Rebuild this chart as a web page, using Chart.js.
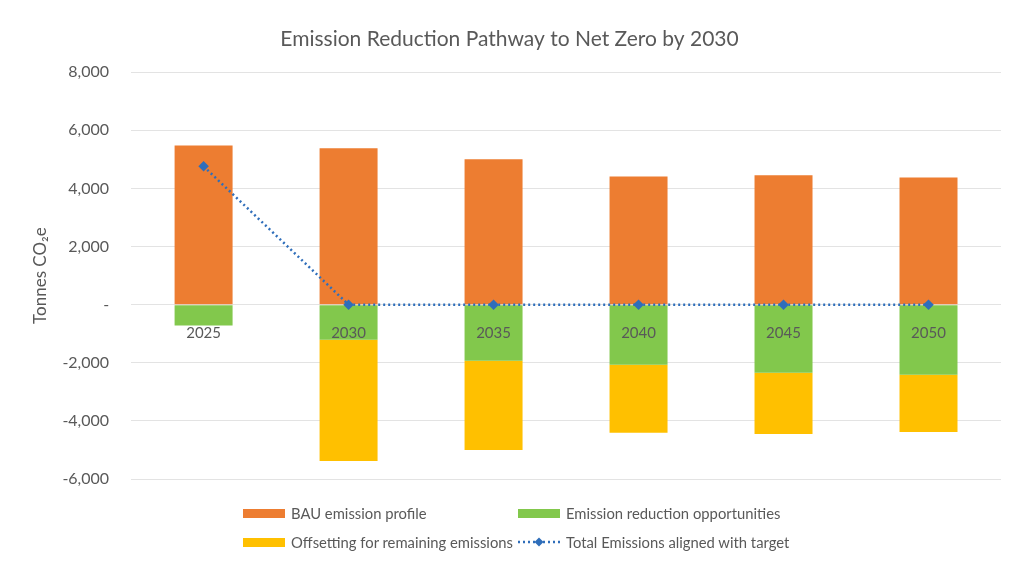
<!DOCTYPE html>
<html>
<head>
<meta charset="utf-8">
<script src="https://cdn.jsdelivr.net/npm/chart.js@4"></script>
<style>
  body { margin: 0; background: #fff; }
  .wrap { position: relative; width: 1011px; height: 566px; }
  .legend {
    position: absolute; left: 243px; top: 503px;
    display: grid; grid-template-columns: 275px 300px; row-gap: 9px;
    font-family: Lato, "Open Sans", sans-serif; font-size: 14.8px; color: #595959;
  }
  .legend .item { display: flex; align-items: center; height: 20px; white-space: nowrap; }
  .legend .swatch { width: 42px; height: 9px; margin-right: 6px; }
  .legend canvas { margin-right: 6px; }
</style>
</head>
<body>
<div class="wrap">
  <canvas id="chart"></canvas>
  <div class="legend" id="legend"></div>
</div>
<script>
const years = ["2025", "2030", "2035", "2040", "2045", "2050"];
const bauEmissions = [5480, 5380, 5000, 4410, 4450, 4380];
const reductions = [-720, -1210, -1930, -2070, -2340, -2410];
const offsets = [0, -4170, -3070, -2340, -2110, -1970];
const totalEmissions = [4760, 0, 0, 0, 0, 0];

const orange = "#ED7D31";
const green = "#82C84C";
const yellow = "#FFC000";
const blue = "#2F6EBA";

const chart = new Chart(document.getElementById("chart"), {
  data: {
    labels: years,
    datasets: [
      {
        type: "line",
        label: "Total Emissions aligned with target",
        data: totalEmissions,
        stack: "total",
        order: 0,
        borderColor: blue,
        backgroundColor: blue,
        borderWidth: 2.5,
        borderDash: [2, 3],
        pointStyle: "rectRot",
        pointRadius: 3.5,
        tension: 0
      },
      { type: "bar", label: "BAU emission profile", data: bauEmissions, backgroundColor: orange, stack: "s", order: 1 },
      { type: "bar", label: "Emission reduction opportunities", data: reductions, backgroundColor: green, stack: "s", order: 1 },
      { type: "bar", label: "Offsetting for remaining emissions", data: offsets, backgroundColor: yellow, stack: "s", order: 1 }
    ]
  },
  options: {
    responsive: true,
    maintainAspectRatio: false,
    animation: false,
    layout: { padding: { left: 18, right: 10, top: 0, bottom: 87 } },
    datasets: { bar: { barPercentage: 0.4, categoryPercentage: 1 } },
    plugins: {
      legend: { display: false },
      tooltip: { enabled: false },
      title: {
        display: true,
        text: "Emission Reduction Pathway to Net Zero by 2030",
        color: "#595959",
        font: { family: "Lato", size: 21, weight: "normal" },
        padding: { top: 27, bottom: 20 }
      }
    },
    scales: {
      x: {
        stacked: true,
        position: { y: 0 },
        grid: { display: false },
        border: { display: false },
        ticks: { z: 1, color: "#595959", font: { family: "Lato", size: 15 }, padding: 11 }
      },
      y: {
        stacked: true,
        min: -6000,
        max: 8000,
        grid: { color: "#E3E3E3", drawTicks: false },
        border: { display: false },
        ticks: {
          stepSize: 2000,
          padding: 22,
          color: "#595959",
          font: { family: "Lato", size: 16 },
          callback: v => v === 0 ? "-" : v.toLocaleString("en-US")
        },
        title: {
          display: true,
          text: "Tonnes CO₂e",
          color: "#595959",
          font: { family: "Lato", size: 17 },
          padding: { top: 12, bottom: -10 }
        }
      }
    }
  }
});

// legend in Excel's two-column layout, built from the chart datasets
const legendOrder = [1, 2, 3, 0];
const legend = document.getElementById("legend");
legendOrder.forEach(i => {
  const ds = chart.data.datasets[i];
  const item = document.createElement("div");
  item.className = "item";
  if (ds.type === "bar") {
    const sw = document.createElement("span");
    sw.className = "swatch";
    sw.style.background = ds.backgroundColor;
    item.appendChild(sw);
  } else {
    const c = document.createElement("canvas");
    c.width = 42; c.height = 12;
    const g = c.getContext("2d");
    g.strokeStyle = ds.borderColor;
    g.lineWidth = 2.5;
    g.setLineDash([2, 3]);
    g.beginPath(); g.moveTo(0, 6); g.lineTo(42, 6); g.stroke();
    g.fillStyle = ds.backgroundColor;
    g.beginPath(); g.moveTo(21, 1.5); g.lineTo(25.5, 6); g.lineTo(21, 10.5); g.lineTo(16.5, 6); g.closePath(); g.fill();
    item.appendChild(c);
  }
  const t = document.createElement("span");
  t.textContent = ds.label;
  item.appendChild(t);
  legend.appendChild(item);
});
</script>
</body>
</html>
